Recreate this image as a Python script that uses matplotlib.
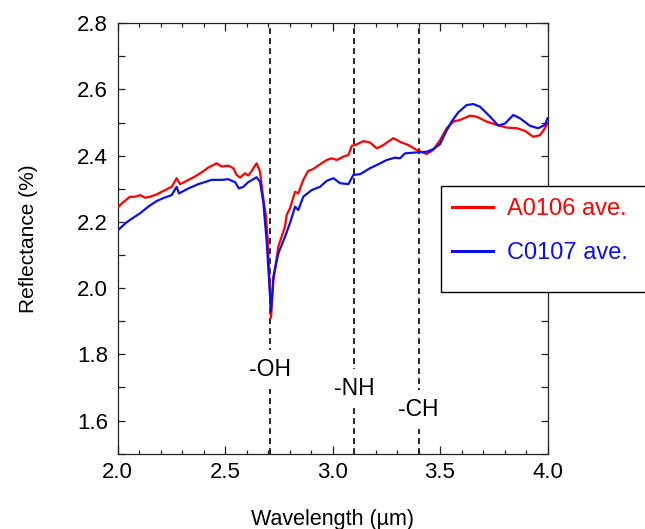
import matplotlib
matplotlib.use("Agg")
import matplotlib.pyplot as plt
from matplotlib.patches import Rectangle
from matplotlib.ticker import MultipleLocator, FormatStrFormatter

plt.rcParams['font.family'] = ['Liberation Sans', 'DejaVu Sans']

# A0106 ave. (red)
a_wl = [2.000, 2.020, 2.058, 2.081, 2.105, 2.128, 2.151, 2.182, 2.221, 2.252, 2.275,
        2.291, 2.322, 2.360, 2.392, 2.422, 2.461, 2.485, 2.515, 2.539, 2.554, 2.570,
        2.593, 2.608, 2.624, 2.647, 2.663, 2.678, 2.690, 2.699, 2.708, 2.714, 2.725,
        2.748, 2.779, 2.787, 2.802, 2.826, 2.841, 2.864, 2.887, 2.911, 2.942, 2.973,
        2.996, 3.020, 3.050, 3.074, 3.090, 3.113, 3.143, 3.174, 3.206, 3.236, 3.283,
        3.314, 3.353, 3.392, 3.438, 3.469, 3.500, 3.531, 3.562, 3.593, 3.640, 3.670,
        3.717, 3.764, 3.810, 3.857, 3.895, 3.934, 3.965, 3.988, 4.000]
a_refl = [2.242, 2.256, 2.276, 2.276, 2.281, 2.273, 2.276, 2.283, 2.296, 2.306, 2.332,
          2.314, 2.324, 2.337, 2.350, 2.364, 2.377, 2.367, 2.370, 2.362, 2.342, 2.334,
          2.347, 2.340, 2.354, 2.377, 2.352, 2.271, 2.220, 2.145, 2.004, 1.910, 2.024,
          2.125, 2.186, 2.221, 2.241, 2.291, 2.286, 2.327, 2.354, 2.360, 2.374, 2.387,
          2.392, 2.387, 2.397, 2.402, 2.430, 2.434, 2.444, 2.440, 2.422, 2.432, 2.453,
          2.442, 2.432, 2.417, 2.405, 2.418, 2.447, 2.483, 2.503, 2.508, 2.521, 2.518,
          2.503, 2.493, 2.485, 2.483, 2.475, 2.457, 2.462, 2.483, 2.498]

# C0107 ave. (blue)
c_wl = [2.000, 2.012, 2.043, 2.074, 2.105, 2.143, 2.182, 2.221, 2.252, 2.275, 2.286,
        2.329, 2.376, 2.438, 2.485, 2.515, 2.547, 2.565, 2.585, 2.608, 2.647, 2.663,
        2.678, 2.694, 2.705, 2.714, 2.725, 2.748, 2.779, 2.802, 2.826, 2.841, 2.864,
        2.903, 2.942, 2.973, 3.004, 3.035, 3.074, 3.097, 3.128, 3.174, 3.213, 3.252,
        3.291, 3.314, 3.337, 3.392, 3.438, 3.469, 3.500, 3.530, 3.554, 3.585, 3.624,
        3.655, 3.686, 3.733, 3.771, 3.802, 3.841, 3.872, 3.919, 3.957, 3.988, 4.000]
c_refl = [2.173, 2.181, 2.199, 2.213, 2.226, 2.246, 2.263, 2.274, 2.281, 2.306, 2.286,
          2.301, 2.314, 2.327, 2.327, 2.329, 2.320, 2.301, 2.306, 2.320, 2.335, 2.321,
          2.261, 2.140, 2.024, 1.930, 2.034, 2.105, 2.155, 2.196, 2.246, 2.236, 2.276,
          2.296, 2.306, 2.324, 2.332, 2.317, 2.314, 2.342, 2.344, 2.362, 2.374, 2.387,
          2.394, 2.392, 2.407, 2.410, 2.412, 2.420, 2.435, 2.475, 2.503, 2.531, 2.553,
          2.556, 2.548, 2.518, 2.491, 2.497, 2.523, 2.513, 2.490, 2.483, 2.493, 2.513]

series_labels = ['A0106 ave.', 'C0107 ave.']
band_pos = [2.71, 3.10, 3.40]
band_labels = ['-OH', '-NH', '-CH']
band_label_y = [1.753, 1.697, 1.632]

W, H = 645, 529
fig = plt.figure(figsize=(W / 100, H / 100), dpi=100)
ax = fig.add_axes([117.5 / W, 1 - 453.6 / H, 430 / W, 430.3 / H])

red = '#ff0000'
blue = '#0a10e6'
l1, = ax.plot(a_wl, a_refl, color=red, lw=1.6, label=series_labels[0], zorder=3)
l2, = ax.plot(c_wl, c_refl, color=blue, lw=1.6, label=series_labels[1], zorder=3)

for xp, lab, yl in zip(band_pos, band_labels, band_label_y):
    ax.axvline(xp, color='black', lw=1.2, dashes=(3.5, 2.5), zorder=1)
    ax.text(xp, yl, lab, ha='center', va='center', fontsize=16.5, zorder=2,
            bbox=dict(boxstyle='square,pad=0.35', facecolor='white', edgecolor='none'))

ax.set_xlim(2.0, 4.0)
ax.set_ylim(1.5, 2.8)
ax.xaxis.set_major_locator(MultipleLocator(0.5))
ax.xaxis.set_minor_locator(MultipleLocator(0.1))
ax.yaxis.set_major_locator(MultipleLocator(0.2))
ax.yaxis.set_minor_locator(MultipleLocator(0.1))
ax.xaxis.set_major_formatter(FormatStrFormatter('%.1f'))
ax.yaxis.set_major_formatter(FormatStrFormatter('%.1f'))
ax.tick_params(which='both', direction='in', top=True, right=True, width=0.9, color='#222222')
ax.tick_params(axis='x', which='major', length=5.5, pad=6, labelsize=16)
ax.tick_params(axis='x', which='minor', length=3)
ax.tick_params(axis='y', which='both', length=5, pad=7, labelsize=16)
for s in ax.spines.values():
    s.set_linewidth(0.9)
    s.set_color('#222222')

ax.set_xlabel('Wavelength (µm)', fontsize=15.5, labelpad=19)
ax.set_ylabel('Reflectance (%)', fontsize=15, labelpad=28)

# legend box (extends beyond the figure edge)
rect = Rectangle((441 / W, 1 - 292 / H), 260 / W, 106 / H, transform=fig.transFigure,
                 facecolor='white', edgecolor='black', lw=1.0, zorder=5, clip_on=False)
fig.patches.append(rect)
leg = fig.legend(handles=[l1, l2], loc='upper left', bbox_to_anchor=(452 / W, 1 - 198 / H),
                 frameon=False, fontsize=17, handlelength=1.75, handletextpad=0.6,
                 labelspacing=0.95, borderpad=0, borderaxespad=0)
leg.set_zorder(6)
for t, c in zip(leg.get_texts(), [red, blue]):
    t.set_color(c)
for h in leg.legend_handles:
    h.set_linewidth(2.2)

fig.savefig('out.png', dpi=100)
